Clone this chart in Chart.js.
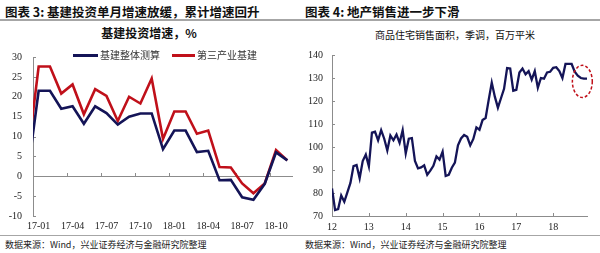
<!DOCTYPE html>
<html><head><meta charset="utf-8">
<script src="https://cdn.jsdelivr.net/npm/chart.js@4.4.1/dist/chart.umd.min.js"></script>
<style>
html,body{margin:0;padding:0;background:#fff;width:600px;height:253px;overflow:hidden;position:relative;font-family:"Noto Sans CJK SC",sans-serif;color:#111;}
.hdr{position:absolute;top:4px;font-size:12.5px;font-weight:700;white-space:nowrap;line-height:16px;}
.rule{position:absolute;left:0;width:600px;background:#a6a6a6;}
.src{position:absolute;top:239px;font-size:9px;white-space:nowrap;line-height:12px;color:#222;}
.box{position:absolute;top:40px;width:300px;height:195px;}
.ctitle{position:absolute;white-space:nowrap;transform:translateX(-50%);line-height:14px;}
.leg{position:absolute;top:49px;font-size:10px;line-height:12px;white-space:nowrap;color:#333;}
.leg span.ln{position:absolute;top:5px;height:2.5px;}
.leg span.tx{position:absolute;top:0;}
</style></head>
<body>
<div class="hdr" style="left:5px">图表 3: 基建投资单月增速放缓，累计增速回升</div>
<div class="hdr" style="left:305px">图表 4: 地产销售进一步下滑</div>
<div class="rule" style="top:19px;height:2px"></div>
<div class="ctitle" style="left:149px;top:26px;font-size:12px;font-weight:700">基建投资增速，%</div>
<div class="ctitle" style="left:455px;top:28px;font-size:10px">商品住宅销售面积，季调，百万平米</div>
<div class="box" style="left:0"><canvas id="c1"></canvas></div>
<div class="box" style="left:300px"><canvas id="c2"></canvas></div>
<div class="leg" style="left:0;width:300px">
  <span class="ln" id="lg1" style="left:73px;width:25px"></span><span class="tx" id="lt1" style="left:100px"></span>
  <span class="ln" id="lg2" style="left:172px;width:23px"></span><span class="tx" id="lt2" style="left:197px"></span>
</div>
<div class="rule" style="top:235px;height:1px"></div>
<div class="src" style="left:5px">数据来源：Wind，兴业证券经济与金融研究院整理</div>
<div class="src" style="left:305px">数据来源：Wind，兴业证券经济与金融研究院整理</div>
<script>
// ---------- data ----------
const LEFT_MONTHS = ['16-12','17-01','17-02','17-03','17-04','17-05','17-06','17-07','17-08','17-09','17-10','17-11','17-12',
                     '18-01','18-02','18-03','18-04','18-05','18-06','18-07','18-08','18-09','18-10','18-11'];
const INFRA_TOTAL = [0.1, 21.5, 21.5, 17.0, 17.6, 13.2, 17.6, 15.9, 13.0, 15.0, 15.8, 15.8, 6.8,
                     11.5, 11.5, 6.1, 6.4, -1.0, -0.9, -5.3, -5.9, -1.9, 6.0, 4.0];
const INFRA_TERTIARY = [4.4, 27.6, 27.6, 20.8, 23.1, 15.6, 21.9, 20.2, 13.9, 20.0, 18.3, 24.6, 9.4,
                        16.3, 16.3, 10.7, 11.5, 2.3, 2.2, -1.8, -4.3, -1.8, 6.6, 4.0];
const LEFT_SERIES_NAMES = ['基建整体测算', '第三产业基建'];
const LEFT_Y_TICKS = [-10, -5, 0, 5, 10, 15, 20, 25, 30];

const SALES_START_YEAR = 12;   // 2012-01, monthly
const SALES_AREA = [82, 72.6, 73, 78.9, 76.2, 80.3, 84.4, 91.7, 92.2, 86.4, 93.9, 96.7,
  91.6, 106.3, 106.7, 102.9, 107.3, 103.6, 98.5, 105, 102.9, 105.4, 101.8, 107.3,
  97.2, 103.6, 103.9, 93.9, 90.7, 91.1, 92, 87.9, 89.7, 91.8, 95.9, 94.5,
  98, 87.4, 87.9, 91, 93.2, 100.7, 103.7, 105.2, 104.4, 100.7, 103.5, 108.5,
  107.5, 111.7, 112.6, 120.5, 128, 121.9, 117.1, 121.2, 125.3, 134.3, 134.1, 124.5,
  124.9, 132.4, 134.1, 131.6, 133, 129.3, 133, 125.8, 130, 129.7, 132.4, 132.7,
  134.4, 134.7, 133, 130, 136.1, 136.1, 136.1, 132.7, 131, 130, 129.7, 129.7];
const RIGHT_X_TICKS = [12, 13, 14, 15, 16, 17, 18];
const RIGHT_Y_TICKS = [70, 80, 90, 100, 110, 120, 130, 140];
const HIGHLIGHT = {x: 18.79, y: 128.5, rx: 0.27, ry: 7};   // dashed ellipse, data units

// ---------- styles ----------
const NAVY = '#141457', DRED = '#c0101a', AXIS = '#8c8c8c', TXT = '#222';
const NUMFONT = {family: '"Liberation Serif", "Times New Roman", serif', size: 10};

document.getElementById('lg1').style.background = NAVY;
document.getElementById('lg2').style.background = DRED;
document.getElementById('lt1').textContent = LEFT_SERIES_NAMES[0];
document.getElementById('lt2').textContent = LEFT_SERIES_NAMES[1];

const leftDeco = {
  id: 'leftDeco',
  beforeDatasetsDraw(chart) {
    const {ctx, chartArea: a, scales: {x, y}} = chart;
    const y0 = y.getPixelForValue(0);
    const half = (x.getPixelForValue(1) - x.getPixelForValue(0)) / 2;
    ctx.save();
    ctx.strokeStyle = AXIS; ctx.lineWidth = 1;
    ctx.beginPath(); ctx.moveTo(a.left, Math.round(y0) + 0.5); ctx.lineTo(a.right, Math.round(y0) + 0.5); ctx.stroke();
    ctx.beginPath();
    for (let i = x.min; i <= x.max; i++) {
      if (/-(01|04|07|10)$/.test(LEFT_MONTHS[i])) {
        const px = Math.round(x.getPixelForValue(i) - half) + 0.5;
        ctx.moveTo(px, Math.round(y0)); ctx.lineTo(px, Math.round(y0) - 3);
      }
    }
    LEFT_Y_TICKS.forEach(v => {
      const py = Math.round(y.getPixelForValue(v)) + 0.5;
      ctx.moveTo(a.left, py); ctx.lineTo(a.left + 3, py);
    });
    ctx.stroke();
    ctx.restore();
  }
};

const rightDeco = {
  id: 'rightDeco',
  beforeDatasetsDraw(chart) {
    const {ctx, chartArea: a, scales: {x, y}} = chart;
    ctx.save();
    ctx.strokeStyle = AXIS; ctx.lineWidth = 1;
    ctx.beginPath();
    RIGHT_X_TICKS.forEach(v => {
      const px = Math.round(x.getPixelForValue(v)) + 0.5;
      ctx.moveTo(px, a.bottom); ctx.lineTo(px, a.bottom - 3);
    });
    RIGHT_Y_TICKS.forEach(v => {
      const py = Math.round(y.getPixelForValue(v)) + 0.5;
      ctx.moveTo(a.left, py); ctx.lineTo(a.left + 3, py);
    });
    ctx.stroke();
    ctx.restore();
  },
  afterDatasetsDraw(chart) {
    const {ctx, scales: {x, y}} = chart;
    const cx = x.getPixelForValue(HIGHLIGHT.x), cy = y.getPixelForValue(HIGHLIGHT.y);
    const rx = Math.abs(x.getPixelForValue(HIGHLIGHT.x + HIGHLIGHT.rx) - cx);
    const ry = Math.abs(y.getPixelForValue(HIGHLIGHT.y + HIGHLIGHT.ry) - cy);
    ctx.save();
    ctx.strokeStyle = DRED; ctx.lineWidth = 1.5; ctx.setLineDash([3, 2]);
    ctx.beginPath(); ctx.ellipse(cx, cy, rx, ry, 0, 0, Math.PI * 2); ctx.stroke();
    ctx.restore();
  }
};

Chart.defaults.font.family = NUMFONT.family;
Chart.defaults.color = TXT;

new Chart(document.getElementById('c1'), {
  type: 'line',
  data: {
    labels: LEFT_MONTHS,
    datasets: [
      {label: LEFT_SERIES_NAMES[0], data: INFRA_TOTAL, borderColor: NAVY, borderWidth: 2.6, pointRadius: 0, tension: 0},
      {label: LEFT_SERIES_NAMES[1], data: INFRA_TERTIARY, borderColor: DRED, borderWidth: 2.6, pointRadius: 0, tension: 0}
    ]
  },
  options: {
    responsive: true, maintainAspectRatio: false, animation: false,
    layout: {padding: {left: 0, right: 7, top: 9, bottom: 0}},
    plugins: {legend: {display: false}, tooltip: {enabled: false}},
    scales: {
      x: {
        type: 'category', min: '17-01', offset: true,
        grid: {display: false, drawTicks: false}, border: {display: false},
        ticks: {autoSkip: false, maxRotation: 0, padding: 4, font: NUMFONT, color: TXT,
          callback(v) { const l = this.getLabelForValue(v); return /-(01|04|07|10)$/.test(l) ? l : ''; }},
        afterFit(s) { s.height = 19; }
      },
      y: {
        min: -10, max: 30,
        grid: {display: false, drawTicks: false}, border: {display: true, color: AXIS, width: 1},
        ticks: {stepSize: 5, padding: 11, font: NUMFONT, color: TXT},
        afterFit(s) { s.width = 33; }
      }
    }
  },
  plugins: [leftDeco]
});

new Chart(document.getElementById('c2'), {
  type: 'line',
  data: {
    datasets: [{
      data: SALES_AREA.map((v, i) => ({x: SALES_START_YEAR + i / 12, y: v})),
      borderColor: NAVY, borderWidth: 2.3, pointRadius: 0, tension: 0
    }]
  },
  options: {
    responsive: true, maintainAspectRatio: false, animation: false,
    layout: {padding: {left: 0, right: 13, top: 6, bottom: 0}},
    plugins: {legend: {display: false}, tooltip: {enabled: false}},
    scales: {
      x: {
        type: 'linear', min: SALES_START_YEAR, max: SALES_START_YEAR + (SALES_AREA.length - 1) / 12,
        grid: {display: false, drawTicks: false}, border: {display: true, color: AXIS, width: 1},
        ticks: {stepSize: 1, includeBounds: false, padding: 5, font: NUMFONT, color: TXT, maxRotation: 0,
          callback(v) { return Number.isInteger(v) ? String(v) : ''; }},
        afterFit(s) { s.height = 19; }
      },
      y: {
        min: 70, max: 140,
        grid: {display: false, drawTicks: false}, border: {display: true, color: AXIS, width: 1},
        ticks: {stepSize: 10, padding: 9, font: NUMFONT, color: TXT},
        afterFit(s) { s.width = 32; }
      }
    }
  },
  plugins: [rightDeco]
});
</script>
</body></html>
